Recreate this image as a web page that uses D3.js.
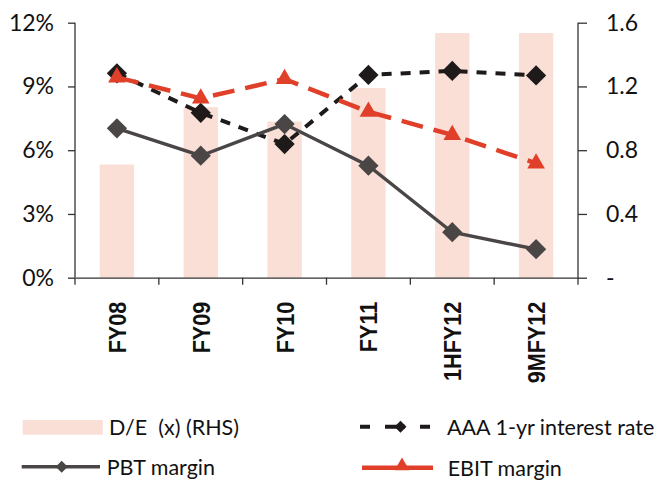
<!DOCTYPE html>
<html>
<head>
<meta charset="utf-8">
<script src="https://cdn.jsdelivr.net/npm/d3@7"></script>
<style>
  body { margin: 0; background: #fff; }
  text { font-family: Lato, "Open Sans", sans-serif; fill: #111; }
</style>
</head>
<body>
<div id="chart"></div>
<script>
// datos
const categories = ["FY08", "FY09", "FY10", "FY11", "1HFY12", "9MFY12"];
const deRatio = [0.71, 1.07, 0.98, 1.19, 1.535, 1.535];     // D/E (x) (RHS)
const aaaRate = [9.62, 7.76, 6.29, 9.54, 9.73, 9.52];       // AAA 1-yr interest rate
const ebitMargin = [9.43, 8.44, 9.35, 7.81, 6.72, 5.38];    // EBIT margin
const pbtMargin = [7.03, 5.74, 7.23, 5.27, 2.14, 1.34];     // PBT margin
const leftTicks = [0, 3, 6, 9, 12];
const rightTicks = [0, 0.4, 0.8, 1.2, 1.6];

const W = 657, H = 482;
const margin = { top: 22.7, right: 79, bottom: 204.3, left: 75 };
const width = W - margin.left - margin.right;
const height = H - margin.top - margin.bottom;

const svg = d3.select("#chart").append("svg")
    .attr("width", W)
    .attr("height", H);

const g = svg.append("g")
    .attr("transform", `translate(${margin.left},${margin.top})`);

// escalas
const x = d3.scaleBand().domain(categories).range([0, width]);
const yL = d3.scaleLinear().domain([0, 12]).range([height, 0]);
const yR = d3.scaleLinear().domain([0, 1.6]).range([height, 0]);
const cx = d => x(d) + x.bandwidth() / 2;

// barras D/E
const barW = x.bandwidth() * 0.41;
g.selectAll(".bar")
    .data(categories)
    .enter().append("rect")
    .attr("class", "bar")
    .attr("x", d => cx(d) - barW / 2)
    .attr("width", barW)
    .attr("y", (d, i) => yR(deRatio[i]))
    .attr("height", (d, i) => height - yR(deRatio[i]))
    .attr("fill", "#fadfd6");

// ejes
const axisColor = "#333";
const leftAxis = g.append("g")
    .call(d3.axisLeft(yL).tickValues(leftTicks).tickFormat(d => d + "%").tickSize(7).tickPadding(14));
const rightAxis = g.append("g")
    .attr("transform", `translate(${width},0)`)
    .call(d3.axisRight(yR).tickValues(rightTicks).tickFormat(d => d === 0 ? "-" : d3.format(".1f")(d)).tickSize(9).tickPadding(19));
const bottomAxis = g.append("g")
    .attr("transform", `translate(0,${height})`)
    .call(d3.axisBottom(x).tickValues([]).tickSizeOuter(0));

[leftAxis, rightAxis, bottomAxis].forEach(a => {
    a.select(".domain").attr("stroke", axisColor).attr("stroke-width", 1.3);
    a.selectAll(".tick line").attr("stroke", axisColor).attr("stroke-width", 1.3);
    a.selectAll("text").style("font-family", "Lato, sans-serif").style("font-size", "23px").attr("fill", "#111");
});
leftAxis.select(".domain").attr("d", `M0,0V${height}`);
rightAxis.select(".domain").attr("d", `M0,0V${height}`);

// marcas de separación en el eje x
const bounds = d3.range(categories.length + 1).map(i => i * x.step());
bottomAxis.selectAll(".sep")
    .data(bounds)
    .enter().append("line")
    .attr("x1", d => d).attr("x2", d => d)
    .attr("y1", 0).attr("y2", 7)
    .attr("stroke", axisColor).attr("stroke-width", 1.3);

// etiquetas de categorías (rotadas)
g.selectAll(".cat")
    .data(categories)
    .enter().append("text")
    .attr("class", "cat")
    .attr("transform", d => `translate(${cx(d) + 9},${height + 24}) rotate(-90) scale(0.9,1)`)
    .attr("text-anchor", "end")
    .style("font-family", "'Liberation Sans', Arial, sans-serif")
    .style("font-weight", "bold")
    .style("font-size", "24px")
    .text(d => d);

// líneas
const series = [
    { name: "PBT margin", values: pbtMargin, color: "#4a4646", dash: null, width: 3.4, marker: "diamond" },
    { name: "AAA 1-yr interest rate", values: aaaRate, color: "#1e1a1a", dash: "10,9", width: 4, marker: "diamond" },
    { name: "EBIT margin", values: ebitMargin, color: "#e0402a", dash: "22,11", width: 4.5, marker: "triangle" }
];
const order = [series[1], series[2], series[0]];

const line = d3.line()
    .x((d, i) => cx(categories[i]))
    .y(d => yL(d));

const diamondPath = d3.symbol().type(d3.symbolSquare).size(205)();
const trianglePath = d3.symbol().type(d3.symbolTriangle).size(135)();

order.forEach(s => {
    g.append("path")
        .datum(s.values)
        .attr("d", line)
        .attr("fill", "none")
        .attr("stroke", s.color)
        .attr("stroke-width", s.width)
        .attr("stroke-dasharray", s.dash);
    g.selectAll(null)
        .data(s.values)
        .enter().append("path")
        .attr("transform", (d, i) => `translate(${cx(categories[i])},${yL(d)})` + (s.marker === "diamond" ? " rotate(45)" : ""))
        .attr("d", s.marker === "diamond" ? diamondPath : trianglePath)
        .attr("fill", s.color);
});

// leyenda
const legend = svg.append("g");
const lfont = "21.5px";
const smallDiamond = d3.symbol().type(d3.symbolSquare).size(72)();
// D/E
legend.append("rect").attr("x", 22.7).attr("y", 420).attr("width", 80).attr("height", 14.7).attr("fill", "#fadfd6");
legend.append("text").attr("x", 109).attr("y", 435).style("font-size", lfont)
    .style("white-space", "pre").text("D/E  (x) (RHS)");
// PBT
legend.append("line").attr("x1", 21.7).attr("x2", 100).attr("y1", 466.7).attr("y2", 466.7)
    .attr("stroke", series[0].color).attr("stroke-width", 3.4);
legend.append("path").attr("transform", "translate(61.7,466.7) rotate(45)")
    .attr("d", smallDiamond).attr("fill", series[0].color);
legend.append("text").attr("x", 106.7).attr("y", 475).style("font-size", lfont).text(series[0].name);
// AAA
legend.append("line").attr("x1", 360).attr("x2", 442).attr("y1", 426.7).attr("y2", 426.7)
    .attr("stroke", series[1].color).attr("stroke-width", 4).attr("stroke-dasharray", "10,15,20,15,10,17");
legend.append("path").attr("transform", "translate(400.5,426.7) rotate(45)")
    .attr("d", smallDiamond).attr("fill", series[1].color);
legend.append("text").attr("x", 447).attr("y", 435).style("font-size", lfont).text(series[1].name);
// EBIT
legend.append("line").attr("x1", 362).attr("x2", 433).attr("y1", 467.7).attr("y2", 467.7)
    .attr("stroke", series[2].color).attr("stroke-width", 4.5);
legend.append("path").attr("transform", "translate(402,466)")
    .attr("d", d3.symbol().type(d3.symbolTriangle).size(95)()).attr("fill", series[2].color);
legend.append("text").attr("x", 447.7).attr("y", 476).style("font-size", lfont).text(series[2].name);
</script>
</body>
</html>
